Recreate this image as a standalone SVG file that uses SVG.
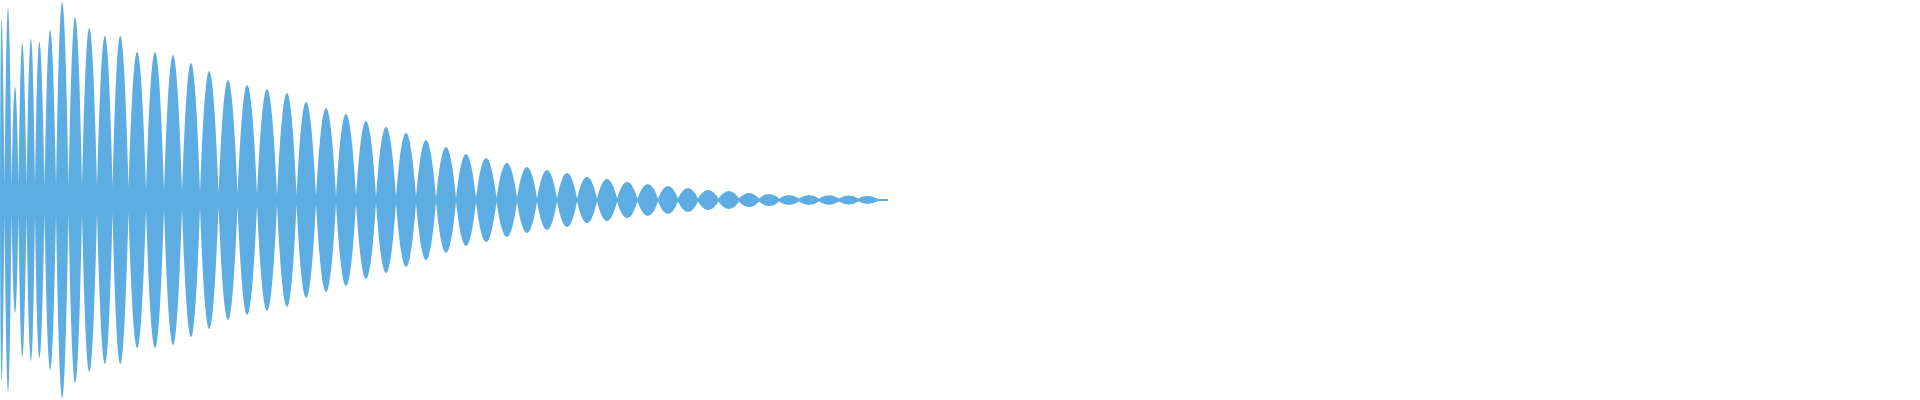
<svg xmlns="http://www.w3.org/2000/svg" width="1920" height="400" viewBox="0 0 1920 400">
<defs>
<style>.w{fill:#5DADE2;stroke:none}</style>
<path id="top" d="M0,200 L0,187 Q1,-149 4.5,187 Q8,-171 11.5,187 Q15,-13 18.5,187 Q22,-101 26.5,187 Q31,-109 35,187 Q39,-103 44.5,187 Q50,-127 56,187 Q62,-183 68.5,187 Q75,-153 82,187 Q89,-131 97,187 Q105,-115 112.5,187 Q120,-115 128.5,187 Q137,-84.5 146,190 Q155,-86.5 164,191 Q173,-81.5 182,192 Q191,-66.5 200,193 Q209,-51 218.5,193 Q228,-33.5 237.5,194 Q247,-24 257,194 Q267,-16.5 277,195 Q287,-9 296.5,195 Q306,8.5 316,196 Q326,20 336,196 Q346,32 356,196 Q366,45.5 376,197 Q386,57 396,197 Q406,69 416,197 Q426,82.5 436,198 Q446,96 456,198 Q466,110 476,198 Q486,118 496.5,198 Q507,128 517,198 Q527,135.75 537,198.5 Q547,141.5 557,198.5 Q567,147.5 577,198.5 Q587,155.5 597,198.5 Q607,159.5 617,198.5 Q627,165.5 637.5,198.5 Q648,169.5 658,198.5 Q668,173.5 678,198.5 Q688,177.5 698,198.5 Q708,181.5 718.5,198.5 Q729,183.5 739,198.5 Q749,187.5 759,198.5 Q769,189.5 779,198.5 Q789,191.5 799,198.5 Q809,191.5 819,198.5 Q829,192.1 839,198.5 Q849,192.5 858.5,198.5 Q868,193.5 878,199 L888,199 L888,200 Z"/>
</defs>
<g id="waveform" class="w">
<use href="#top"/>
<use href="#top" transform="translate(0,400) scale(1,-1)"/>
</g>
</svg>
